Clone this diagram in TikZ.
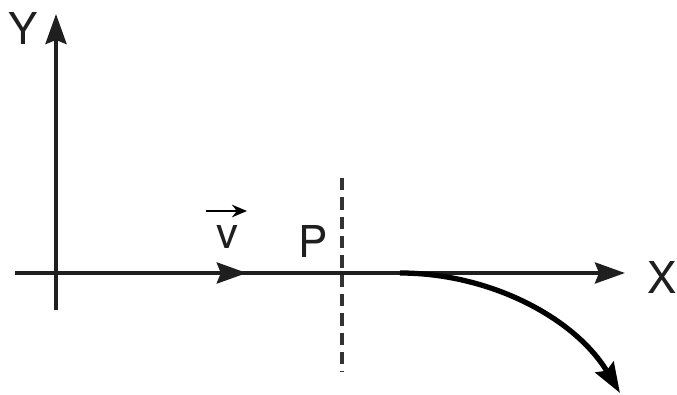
\documentclass[tikz,border=0pt]{standalone}
\usepackage{fontspec}
\setmainfont{TeX Gyre Heros}
\usetikzlibrary{arrows.meta,decorations.markings}
\begin{document}
\begin{tikzpicture}[x=0.02cm,y=-0.02cm,
  axis/.style={line width=2.2pt,draw=black!88},
  tipstyle/.style={-{Stealth[length=0.6cm,width=0.42cm,inset=0.08cm]}},
  lbl/.style={font=\fontsize{25}{25}\selectfont,inner sep=0pt,text=black!88},
  midarrow/.style={decoration={markings,mark=at position #1 with {\arrow{Stealth[length=0.6cm,width=0.42cm,inset=0.08cm]}}},postaction={decorate}}]
\useasboundingbox (0,0) rectangle (677,395);
\coordinate (o) at (56,273);
\coordinate (xs) at (15,273);
\coordinate (xe) at (625,273);
\coordinate (ys) at (56,310);
\coordinate (ye) at (56,14);
\coordinate (ds) at (342,178);
\coordinate (de) at (342,372);
\coordinate (cs) at (400,273);
\coordinate (ce) at (620,393);
\coordinate (vs) at (206,211);
\coordinate (ve) at (247,211);
\draw[axis,tipstyle,midarrow=0.38] (xs) -- (xe);
\draw[axis,tipstyle] (ys) -- (ye);
\draw[line width=1.8pt,dash pattern=on 7pt off 4pt,draw=black!80] (ds) -- (de);
\draw[line width=3pt,tipstyle] (cs) .. controls (490,273) and (575,318) .. (ce);
\draw[line width=1.6pt,-{Stealth[length=0.3cm,width=0.25cm]}] (vs) -- (ve);
\node[lbl] (v) at (227,237) {v};
\node[lbl] (p) at (313,241) {P};
\node[lbl] (x) at (662,277) {X};
\node[lbl] (y) at (23,28) {Y};
\end{tikzpicture}
\end{document}
